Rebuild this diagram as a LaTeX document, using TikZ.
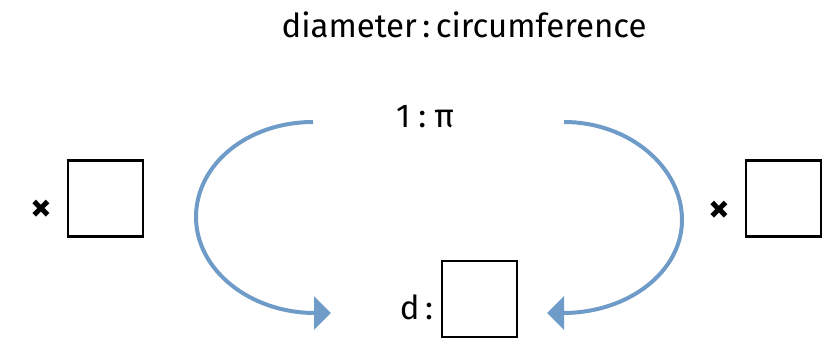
\documentclass[tikz,border=0pt]{standalone}
\usepackage{fontspec}
\setmainfont{Fira Sans}
\usetikzlibrary{arrows.meta}
\definecolor{arcblue}{HTML}{6F9BC8}
\tikzset{
  txt/.style={inner sep=0pt, outer sep=0pt, font=\fontsize{33}{38}\selectfont},
  ansbox/.style={draw=black, line width=2.2pt, minimum width=75pt, minimum height=76pt, inner sep=0pt},
  timestxt/.style={inner sep=0pt, outer sep=0pt, font=\fontsize{42}{48}\selectfont\bfseries},
  arc/.style={draw=arcblue, line width=4pt, -{Triangle[length=17pt,width=33pt]}},
}
\begin{document}
\begin{tikzpicture}[x=1pt,y=-1pt]
\useasboundingbox (0,0) rectangle (826,341);
\node[txt, anchor=base] (title) at (464,37) {diameter\,:\,circumference};
\node[txt, anchor=base] (ratio) at (425,127) {1\hspace{8pt}:\hspace{8pt}π};
\node[ansbox] (boxL) at (105.5,198.5) {};
\node[ansbox] (boxR) at (783.5,198.5) {};
\node[ansbox] (boxB) at (479.5,299) {};
\node[timestxt] (timesL) at (41,211) {×};
\node[timestxt] (timesR) at (719,212) {×};
\node[txt, anchor=base east] (dcolon) at (433,319) {d\,:};
\coordinate (ls) at (313,122);
\coordinate (lm) at (196,217);
\coordinate (le) at (331,313);
\coordinate (rs) at (564,122);
\coordinate (rm) at (682,220);
\coordinate (re) at (547,313);
\draw[arc] (ls) .. controls (248,122) and (196,164) .. (lm)
  .. controls (196,270) and (250,313) .. (le);
\draw[arc] (rs) .. controls (629,122) and (682,167) .. (rm)
  .. controls (682,272) and (628,313) .. (re);
\end{tikzpicture}
\end{document}
